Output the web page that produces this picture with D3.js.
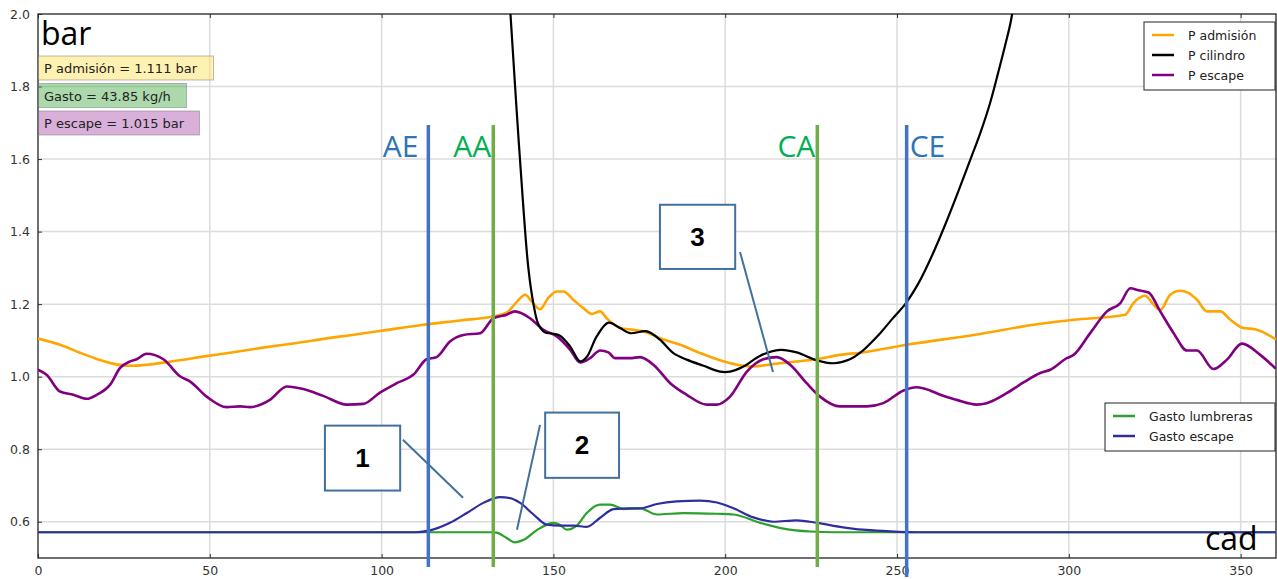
<!DOCTYPE html>
<html>
<head>
<meta charset="utf-8">
<script src="https://cdn.jsdelivr.net/npm/d3@7/dist/d3.min.js"></script>
<style>
  html, body { margin: 0; padding: 0; background: #fff; }
  svg { display: block; }
</style>
</head>
<body>
<svg id="chart" width="1277" height="579"></svg>
<script>
// ---- data: crank angle (cad) vs pressure (bar) ----
const xTicks = [0, 50, 100, 150, 200, 250, 300, 350];
const yTicks = [0.6, 0.8, 1.0, 1.2, 1.4, 1.6, 1.8, 2.0];

const pAdmision = [
  [0, 1.105], [6.4, 1.088], [12.2, 1.066], [17.1, 1.049], [21.8, 1.036], [26.8, 1.030],
  [31.7, 1.033], [38.4, 1.041], [50, 1.058], [55.9, 1.066], [65.5, 1.080], [75.4, 1.093],
  [85, 1.107], [89.9, 1.113], [99.5, 1.126], [111.2, 1.142], [122.8, 1.155], [132.4, 1.166],
  [136.5, 1.177], [139.4, 1.207], [141.8, 1.226], [143.7, 1.207], [146.1, 1.186],
  [148.5, 1.217], [151, 1.235], [152.9, 1.235], [155.8, 1.212], [158.7, 1.189],
  [161.2, 1.173], [163.6, 1.180], [165.5, 1.161], [169.4, 1.134], [173.3, 1.129],
  [177.2, 1.122], [181, 1.106], [186.9, 1.088], [192.7, 1.065], [198.5, 1.045],
  [203.4, 1.033], [208.2, 1.028], [214, 1.035], [220.8, 1.042], [226.7, 1.048],
  [233.4, 1.060], [239.3, 1.066], [252.9, 1.088], [272.3, 1.115], [291.7, 1.146],
  [301.4, 1.157], [316.4, 1.171], [318.8, 1.203], [322.2, 1.223], [324.7, 1.198],
  [326.6, 1.184], [329.5, 1.226], [332.4, 1.237], [334.8, 1.231], [337.3, 1.212],
  [340.2, 1.180], [344.1, 1.180], [347, 1.157], [350.8, 1.134], [354.2, 1.131], [360, 1.104]
];

const pCilindro = [
  [136.3, 2.2], [137.5, 2.0], [139.1, 1.763], [141.1, 1.487], [142.7, 1.300],
  [144.2, 1.200], [145.6, 1.145], [147.5, 1.122], [149.5, 1.119], [151.9, 1.113],
  [154.9, 1.083], [157.8, 1.042], [159.7, 1.054], [162.6, 1.111], [166, 1.149],
  [169.4, 1.134], [172.3, 1.120], [177.2, 1.125], [181, 1.102], [184.9, 1.065],
  [188.8, 1.047], [193.7, 1.030], [198.5, 1.014], [201.4, 1.014], [205.3, 1.028],
  [210.2, 1.058], [216, 1.074], [220.8, 1.067], [226.7, 1.045], [231.5, 1.037],
  [236.3, 1.048], [239.3, 1.066], [245.1, 1.120], [248.5, 1.158], [252.6, 1.203],
  [256.5, 1.262], [260, 1.330], [263.8, 1.414], [268, 1.515], [271.2, 1.595],
  [274.2, 1.671], [277, 1.752], [279.4, 1.837], [281.5, 1.915], [283.5, 2.0], [285.3, 2.2]
];

const pEscape = [
  [0, 1.019], [2.5, 1.005], [6.4, 0.959], [10.3, 0.950], [14.2, 0.939], [17.1, 0.950],
  [21, 0.978], [23.9, 1.024], [26.8, 1.042], [28.7, 1.048], [31.6, 1.063], [36.5, 1.048],
  [41.3, 1.001], [44.2, 0.987], [49.1, 0.945], [54.9, 0.916], [58.8, 0.918], [61.7, 0.916],
  [67.5, 0.936], [72.4, 0.973], [77.2, 0.966], [83, 0.947], [89.9, 0.923], [94.7, 0.925],
  [99.5, 0.956], [104.4, 0.982], [109.2, 1.005], [113.1, 1.048], [116, 1.054],
  [119.9, 1.097], [123.8, 1.115], [128.7, 1.120], [132.5, 1.161], [136.4, 1.171],
  [138.8, 1.180], [143.2, 1.161], [147.1, 1.129], [151, 1.111], [154.9, 1.074],
  [157.8, 1.039], [160.7, 1.051], [163.6, 1.072], [166, 1.067], [167.9, 1.051],
  [172.3, 1.051], [175.2, 1.054], [179.1, 1.033], [184, 0.982], [188.8, 0.950],
  [194.6, 0.923], [197.6, 0.923], [201.4, 0.945], [206.3, 1.014], [211.1, 1.048],
  [215, 1.054], [218.9, 1.033], [223.7, 0.982], [227.6, 0.945], [233.4, 0.918],
  [241.2, 0.918], [246, 0.927], [251.9, 0.962], [255.8, 0.971], [259.6, 0.962],
  [262.6, 0.950], [267.4, 0.936], [273.2, 0.923], [276.1, 0.927], [282, 0.955],
  [286.8, 0.984], [291.7, 1.010], [294.6, 1.019], [299.4, 1.051], [301.4, 1.060],
  [306.2, 1.120], [311.1, 1.180], [315, 1.203], [317.9, 1.244], [320.3, 1.238],
  [323.2, 1.232], [326.6, 1.180], [330.5, 1.120], [334.4, 1.072], [337.3, 1.072],
  [342.1, 1.021], [346, 1.047], [350.4, 1.091], [355.7, 1.060], [360, 1.024]
];

const gastoLumbreras = [
  [0, 0.571], [132.5, 0.571], [133.5, 0.570], [136.4, 0.555], [138.8, 0.543],
  [141.3, 0.550], [145.2, 0.577], [150, 0.597], [152, 0.591], [153.9, 0.578],
  [156.8, 0.589], [159.7, 0.624], [163.6, 0.647], [166.5, 0.647], [170.4, 0.635],
  [175.2, 0.637], [180.1, 0.620], [187.8, 0.624], [197.6, 0.622], [202.4, 0.620],
  [210.2, 0.597], [217, 0.581], [224.7, 0.573], [232, 0.571], [360, 0.571]
];

const gastoEscape = [
  [0, 0.571], [110, 0.571], [114.1, 0.576], [119.9, 0.597], [124.8, 0.624],
  [129.6, 0.652], [134.5, 0.668], [137.4, 0.665], [140.3, 0.652], [144.2, 0.620],
  [148.1, 0.592], [152, 0.589], [155.8, 0.589], [159.7, 0.586], [163.6, 0.611],
  [167.5, 0.635], [172.3, 0.637], [175.2, 0.637], [180.1, 0.649], [185.9, 0.656],
  [192.7, 0.658], [197.6, 0.653], [202.4, 0.637], [208.2, 0.612], [214, 0.600],
  [220.8, 0.604], [226.7, 0.597], [233.4, 0.586], [240, 0.578], [247, 0.574],
  [256, 0.571], [360, 0.571]
];

// valve timing events (cad)
const eventNames = ["AE", "AA", "CA", "CE"];
const eventAngles = [113.6, 132.5, 226.8, 252.8];
const eventKinds = ["escape", "admision", "admision", "escape"];

// readouts shown in the upper-left corner
const readoutTexts = ["P admisión = 1.111 bar", "Gasto = 43.85 kg/h", "P escape = 1.015 bar"];

// numbered callouts: box [x0, x1, yTop, yBottom] and leader [x1, y1, x2, y2] in data units
const calloutLabels = ["1", "2", "3"];
const calloutBoxes = [[83.5, 105.4, 0.865, 0.686], [147.6, 169.1, 0.901, 0.721], [181.0, 202.9, 1.474, 1.297]];
const calloutLeaders = [[106.2, 0.826, 123.7, 0.666], [146.1, 0.867, 139.4, 0.578], [204.3, 1.344, 213.9, 1.013]];

// ---- layout ----
const svg = d3.select("#chart");
const L = 38, R = 1275, T = 14, B = 558;
const x = d3.scaleLinear().domain([0, 360]).range([L, R]);
const y = d3.scaleLinear().domain([0.5, 2.0]).range([B, T]);
const tickFont = "DejaVu Sans, sans-serif";

svg.append("defs").append("clipPath").attr("id", "plotClip")
  .append("rect").attr("x", L).attr("y", T).attr("width", R - L + 1).attr("height", B - T);

// grid
const grid = svg.append("g");
grid.selectAll("line.gx").data(xTicks.filter(d => d > 0)).join("line")
  .attr("x1", d => x(d)).attr("x2", d => x(d)).attr("y1", T).attr("y2", B)
  .attr("stroke", "#dcdcdc").attr("stroke-width", 1.5);
grid.selectAll("line.gy").data(yTicks.filter(d => d < 2.0)).join("line")
  .attr("y1", d => y(d)).attr("y2", d => y(d)).attr("x1", L).attr("x2", R + 2)
  .attr("stroke", "#dcdcdc").attr("stroke-width", 1.5);

// axes (inward ticks, matplotlib-classic look)
const xAxis = svg.append("g").attr("transform", `translate(0,${B})`)
  .call(d3.axisBottom(x).tickValues(xTicks).tickSizeInner(-4).tickSizeOuter(0).tickPadding(8).tickFormat(d3.format("d")));
const yAxis = svg.append("g").attr("transform", `translate(${L},0)`)
  .call(d3.axisLeft(y).tickValues(yTicks).tickSizeInner(-4).tickSizeOuter(0).tickPadding(8).tickFormat(d3.format(".1f")));
const xTop = svg.append("g").attr("transform", `translate(0,${T})`)
  .call(d3.axisTop(x).tickValues(xTicks).tickSizeInner(-4).tickSizeOuter(0).tickFormat(""));
[xAxis, yAxis, xTop].forEach(g => {
  g.select(".domain").remove();
  g.selectAll("line").attr("stroke", "#333");
  g.selectAll("text").attr("font-family", tickFont).attr("font-size", 12.5).attr("fill", "#333");
});

// frame
svg.append("rect").attr("x", L).attr("y", T).attr("width", R - L + 1).attr("height", B - T)
  .attr("fill", "none").attr("stroke", "#222").attr("stroke-width", 1.3);

// series
const lineMono = d3.line().x(d => x(d[0])).y(d => y(d[1])).curve(d3.curveMonotoneX);
const lineSmooth = d3.line().x(d => x(d[0])).y(d => y(d[1])).curve(d3.curveCatmullRom.alpha(0.5));
const plot = svg.append("g").attr("clip-path", "url(#plotClip)");
const series = [
  { data: gastoLumbreras, color: "#2ca02c", w: 2.2, gen: lineMono },
  { data: gastoEscape, color: "#2e2ea0", w: 2.2, gen: lineMono },
  { data: pAdmision, color: "#ffa500", w: 2.6, gen: lineMono },
  { data: pEscape, color: "#800080", w: 2.6, gen: lineMono },
  { data: pCilindro, color: "#000000", w: 2.2, gen: lineSmooth }
];
plot.selectAll("path.series").data(series).join("path")
  .attr("d", s => s.gen(s.data)).attr("fill", "none")
  .attr("stroke", s => s.color).attr("stroke-width", s => s.w)
  .attr("stroke-linejoin", "round").attr("stroke-linecap", "round");

// valve event markers
const evColor = { escape: "#4472c4", admision: "#70ad47" };
const evText = { escape: "#2e75b6", admision: "#00b050" };
const labelOffset = [-10, -2, -2, 3];
const ev = svg.append("g");
ev.selectAll("line").data(eventAngles).join("line")
  .attr("x1", d => x(d)).attr("x2", d => x(d))
  .attr("y1", 125).attr("y2", (d, i) => i === 3 ? 577 : 567)
  .attr("stroke", (d, i) => evColor[eventKinds[i]]).attr("stroke-width", 3.5);
ev.selectAll("text").data(eventAngles).join("text")
  .attr("x", (d, i) => x(d) + labelOffset[i])
  .attr("y", 157)
  .attr("text-anchor", (d, i) => i === 3 ? "start" : "end")
  .attr("font-family", "Open Sans, sans-serif").attr("font-size", 30)
  .attr("fill", (d, i) => evText[eventKinds[i]])
  .text((d, i) => eventNames[i]);

// numbered callouts
const co = svg.append("g");
calloutLeaders.forEach(l => {
  co.append("line").attr("x1", x(l[0])).attr("y1", y(l[1])).attr("x2", x(l[2])).attr("y2", y(l[3]))
    .attr("stroke", "#41719c").attr("stroke-width", 2);
});
calloutBoxes.forEach((b, i) => {
  co.append("rect").attr("x", x(b[0])).attr("y", y(b[2]))
    .attr("width", x(b[1]) - x(b[0])).attr("height", y(b[3]) - y(b[2]))
    .attr("fill", "#fff").attr("stroke", "#41719c").attr("stroke-width", 2);
  co.append("text").attr("x", (x(b[0]) + x(b[1])) / 2).attr("y", (y(b[2]) + y(b[3])) / 2 + 9)
    .attr("text-anchor", "middle").attr("font-family", "Liberation Sans, Arial, sans-serif")
    .attr("font-weight", "bold").attr("font-size", 26).attr("fill", "#000").text(calloutLabels[i]);
});

// axis unit labels
svg.append("text").attr("x", 41).attr("y", 45).attr("font-family", "Open Sans, sans-serif")
  .attr("font-size", 32).attr("fill", "#000").text("bar");
svg.append("text").attr("x", 1205).attr("y", 550).attr("font-family", "Open Sans, sans-serif")
  .attr("font-size", 32).attr("fill", "#000").text("cad");

// readout boxes
const readFill = ["rgba(255,228,100,0.5)", "rgba(70,170,70,0.45)", "rgba(170,80,170,0.45)"];
const readW = [175, 148, 161];
const rb = svg.append("g");
readoutTexts.forEach((t, i) => {
  const yy = 56 + i * 27.5;
  rb.append("rect").attr("x", 38.5).attr("y", yy).attr("width", readW[i]).attr("height", 24)
    .attr("fill", readFill[i]).attr("stroke", "rgba(120,120,120,0.5)").attr("stroke-width", 1);
  rb.append("text").attr("x", 44).attr("y", yy + 17).attr("font-family", tickFont)
    .attr("font-size", 13).attr("fill", "#222").text(t);
});

// legends
function legend(items, colors, x0, y0, w) {
  const g = svg.append("g");
  const h = items.length * 20 + 8;
  g.append("rect").attr("x", x0).attr("y", y0).attr("width", w).attr("height", h)
    .attr("fill", "#fff").attr("stroke", "#222").attr("stroke-width", 1);
  items.forEach((t, i) => {
    const yy = y0 + 13 + i * 20;
    g.append("line").attr("x1", x0 + 8).attr("x2", x0 + 30).attr("y1", yy).attr("y2", yy)
      .attr("stroke", colors[i]).attr("stroke-width", 2.5);
    g.append("text").attr("x", x0 + 44).attr("y", yy + 4.5).attr("font-family", tickFont)
      .attr("font-size", 12.5).attr("fill", "#222").text(t);
  });
}
legend(["P admisión", "P cilindro", "P escape"], ["#ffa500", "#000000", "#800080"], 1144, 22, 131);
legend(["Gasto lumbreras", "Gasto escape"], ["#2ca02c", "#2e2ea0"], 1105, 403, 170);
</script>
</body>
</html>
